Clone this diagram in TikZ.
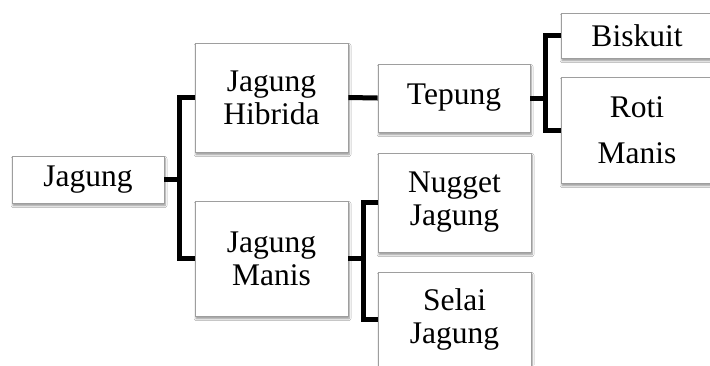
\documentclass[tikz,border=0pt]{standalone}
\usepackage{fontspec}
\setmainfont{Liberation Serif}
\usetikzlibrary{shadows.blur,calc}
\begin{document}
\begin{tikzpicture}[x=1pt,y=-1pt,
  box/.style={draw=black!38, line width=0.9pt, fill=white, align=center,
    inner sep=0pt, font=\fontsize{31.5}{33}\selectfont,
    blur shadow={shadow xshift=1pt, shadow yshift=-2.5pt, shadow blur steps=6,
      shadow blur radius=2pt, shadow opacity=45}},
  conn/.style={line width=5pt, black, line join=miter}]
\useasboundingbox (0,0) rectangle (710,365);
\clip (0,0) rectangle (710,365);
\fill[white] (0,0) rectangle (710,365);
\node[box, minimum width=152pt, minimum height=47pt] (j) at (88,179.5) {Jagung};
\node[box, minimum width=153pt, minimum height=109pt] (jh) at (271.5,97.5) {Jagung\\Hibrida};
\node[box, minimum width=153pt, minimum height=115pt] (jm) at (271.5,258.5) {Jagung\\Manis};
\node[box, minimum width=152pt, minimum height=68pt] (tp) at (454,98) {Tepung};
\node[box, minimum width=153pt, minimum height=99pt] (ng) at (454.5,202.5) {Nugget\\Jagung};
\node[box, minimum width=153pt, minimum height=95pt] (sj) at (454.5,319.5) {Selai\\Jagung};
\node[box, minimum width=152pt, minimum height=45pt] (bk) at (637,35.5) {Biskuit};
\node[box, minimum width=152pt, minimum height=106pt, font=\fontsize{31.5}{46}\selectfont] (rm) at (637,130) {Roti\\Manis};
% connectors
\draw[conn] (j.east) -- ++(15,0) coordinate (t1);
\draw[conn] (jh.west) -- (jh.west -| t1) -- (jm.west -| t1) -- (jm.west);
\draw[conn] (jh.east) -- (tp.west);
\draw[conn] (tp.east) -- ++(15,0) coordinate (t2);
\draw[conn] (bk.west) -- (bk.west -| t2) -- (rm.west -| t2) -- (rm.west);
\draw[conn] (jm.east) -- ++(15,0) coordinate (t3);
\draw[conn] (ng.west) -- (ng.west -| t3) -- (sj.west -| t3) -- (sj.west);
\end{tikzpicture}
\end{document}
